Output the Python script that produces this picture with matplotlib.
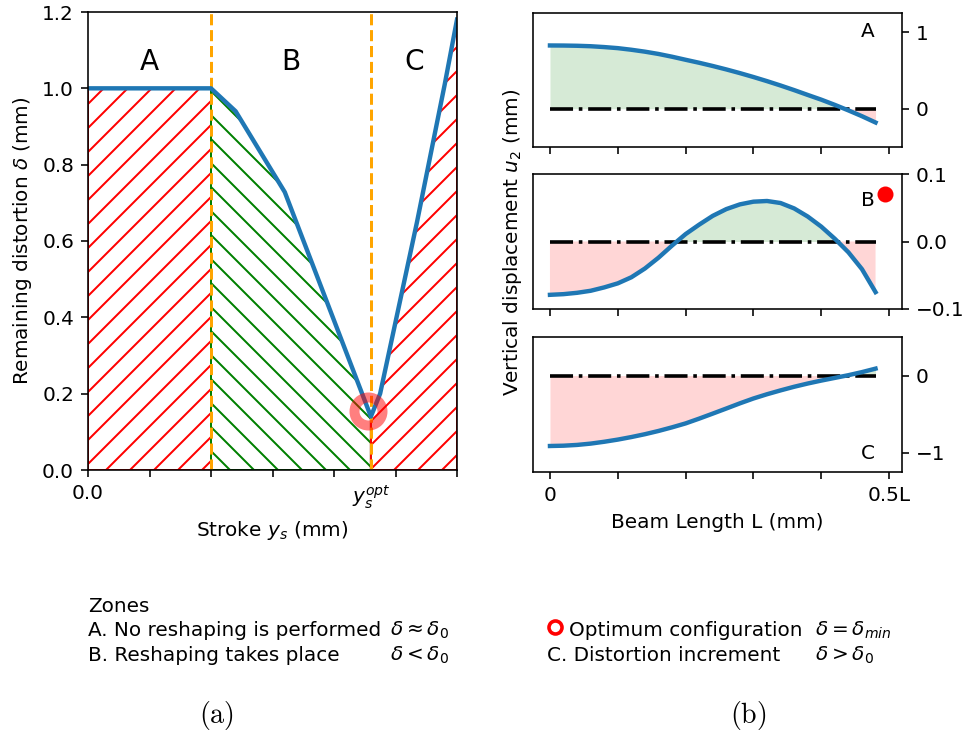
import numpy as np
import matplotlib
matplotlib.use("Agg")
import matplotlib.pyplot as plt
import matplotlib.transforms as mtransforms

# ---------------- data ----------------
# (a) remaining distortion vs stroke (stroke in tick units 0..6)
stroke = [0.0, 2.0, 2.4, 3.2, 4.6, 4.75, 5.35, 5.8, 6.0]
distortion = [1.0, 1.0, 0.94, 0.728, 0.14, 0.20, 0.65, 1.01, 1.18]
zone_bounds = [0.0, 2.0, 4.6, 6.0]       # A | B | C
zone_names = ["A", "B", "C"]
opt_stroke = 4.55
opt_delta = 0.155
x_ticks = [0, 1, 2, 3, 4, 5, 6]
x_ticklabels = ["0.0", "", "", "", "", "", ""]
y_ticks = [0.0, 0.2, 0.4, 0.6, 0.8, 1.0, 1.2]

# (b) vertical displacement along half beam (x in units of L)
beam_x = [0.00, 0.02, 0.04, 0.06, 0.08, 0.10, 0.12, 0.14, 0.16, 0.18, 0.20, 0.22,
          0.24, 0.26, 0.28, 0.30, 0.32, 0.34, 0.36, 0.38, 0.40, 0.42, 0.44, 0.46, 0.48]
u2_A = [0.826, 0.825, 0.822, 0.816, 0.805, 0.791, 0.770, 0.745, 0.715, 0.679, 0.639, 0.600,
        0.558, 0.513, 0.465, 0.414, 0.360, 0.303, 0.243, 0.180, 0.118, 0.050, -0.022, -0.098, -0.180]
u2_B = [-0.079, -0.078, -0.076, -0.073, -0.068, -0.062, -0.053, -0.040, -0.024, -0.006, 0.011, 0.025,
        0.038, 0.048, 0.055, 0.059, 0.060, 0.057, 0.049, 0.037, 0.022, 0.004, -0.016, -0.041, -0.075]
u2_C = [-0.913, -0.909, -0.899, -0.882, -0.858, -0.830, -0.797, -0.760, -0.718, -0.671, -0.620, -0.558,
        -0.493, -0.427, -0.360, -0.297, -0.242, -0.192, -0.145, -0.103, -0.065, -0.030, 0.005, 0.045, 0.090]
beam_ticks = [0.0, 0.1, 0.2, 0.3, 0.4, 0.5]
beam_ticklabels = ["0", "", "", "", "", "0.5L"]
B_marker = (0.494, 0.07)

W, H = 965, 732
DPI = 144
fig = plt.figure(figsize=(W / DPI, H / DPI), dpi=DPI)

def rect(x0, y0, x1, y1):
    return [x0 / W, 1 - y1 / H, (x1 - x0) / W, (y1 - y0) / H]

# ---------------- (a) ----------------
ax = fig.add_axes(rect(88, 12, 457, 470))
xs = np.array(stroke)
ys = np.array(distortion)

def seg(a, b):
    m = (xs >= a) & (xs <= b)
    return xs[m], ys[m]

sa_x, sa_y = seg(zone_bounds[0], zone_bounds[1])
sb_x, sb_y = seg(zone_bounds[1], zone_bounds[2])
sc_x, sc_y = seg(zone_bounds[2], zone_bounds[3])
ax.fill_between(sa_x, 0, sa_y, facecolor="none", edgecolor="red", hatch="//", lw=1.0)
ax.fill_between(sb_x, 0, sb_y, facecolor="none", edgecolor="green", hatch="\\\\", lw=1.0)
ax.fill_between(sc_x, 0, sc_y, facecolor="none", edgecolor="red", hatch="//", lw=1.0)
for xb in zone_bounds[1:3]:
    ax.axvline(xb, color="orange", ls="--", lw=1.5)
ax.plot(xs, ys, color="#1f77b4", lw=2.2)
ax.plot([opt_stroke], [opt_delta], "o", ms=14, mfc="none", mec="red", mew=5, alpha=0.5)
centers = [(zone_bounds[i] + zone_bounds[i + 1]) / 2 for i in range(3)]
for c, n in zip(centers, zone_names):
    ax.text(c, 1.07, n, ha="center", va="center", fontsize=14)
ax.set_xlim(0, 6)
ax.set_ylim(0, 1.2)
ax.set_xticks(x_ticks, x_ticklabels)
ax.set_xticks([zone_bounds[2]], [r"$y_s^{opt}$"], minor=True)
ax.tick_params(axis="x", which="minor", length=0, pad=7)
ax.set_yticks(y_ticks)
ax.set_xlabel(r"Stroke $y_s$ (mm)")
ax.set_ylabel(r"Remaining distortion $\delta$ (mm)")

# ---------------- (b) ----------------
panels = [
    (u2_A, (13, 147), (-0.5, 1.25), [1, 0], ["1", "0"], "A", 0.86),
    (u2_B, (174, 309), (-0.1, 0.1), [0.1, 0.0, -0.1], ["0.1", "0.0", "\u22120.1"], "B", 0.8),
    (u2_C, (337, 472), (-1.25, 0.5), [0, -1], ["0", "\u22121"], "C", 0.14),
]
bx = np.array(beam_x)
for i, (u, (y0, y1), yl, yt, ytl, lab, ly) in enumerate(panels):
    a = fig.add_axes(rect(533, y0, 902, y1))
    uu = np.array(u)
    a.fill_between(bx, 0, uu, where=uu >= 0, interpolate=True, color="green", alpha=0.16, lw=0)
    a.fill_between(bx, 0, uu, where=uu <= 0, interpolate=True, color="red", alpha=0.16, lw=0)
    a.plot([bx[0], bx[-1]], [0, 0], color="black", ls="-.", lw=1.8)
    a.plot(bx, uu, color="#1f77b4", lw=2.2)
    a.set_xlim(-0.025, 0.519)
    a.set_ylim(*yl)
    a.yaxis.tick_right()
    a.set_yticks(yt, ytl)
    a.set_xticks(beam_ticks)
    if i < 2:
        a.set_xticklabels([])
    else:
        a.set_xticklabels(beam_ticklabels)
        a.set_xlabel("Beam Length L (mm)")
    a.text(0.468, ly, lab, transform=mtransforms.blended_transform_factory(a.transData, a.transAxes),
           ha="center", va="center", fontsize=10)
    if lab == "B":
        a.plot([B_marker[0]], [B_marker[1]], "o", color="red", ms=7)

fig.text(512 / W, 1 - 242 / H, r"Vertical displacement $u_2$ (mm)", rotation=90,
         ha="center", va="center", fontsize=10)

# ---------------- bottom notes ----------------
def ft(x, y, s, **kw):
    fig.text(x / W, 1 - y / H, s, va="baseline", fontsize=10, **kw)

ft(88, 612, "Zones")
ft(88, 636, "A. No reshaping is performed")
ft(390, 636, r"$\delta \approx \delta_0$")
ft(88, 661, "B. Reshaping takes place")
ft(390, 661, r"$\delta < \delta_0$")
fig.lines.append(plt.Line2D([555 / W], [1 - 627 / H], marker="o", ms=6.5, mfc="none",
                            mec="red", mew=1.8, transform=fig.transFigure))
ft(569, 636, "Optimum configuration")
ft(815, 636, r"$\delta = \delta_{min}$")
ft(547, 661, "C. Distortion increment")
ft(815, 661, r"$\delta > \delta_0$")
fig.text(216 / W, 1 - 715 / H, r"$\mathrm{(a)}$", ha="center", va="center", fontsize=14, math_fontfamily="cm")
fig.text(748 / W, 1 - 715 / H, r"$\mathrm{(b)}$", ha="center", va="center", fontsize=14, math_fontfamily="cm")

fig.savefig("out.png", dpi=DPI)
